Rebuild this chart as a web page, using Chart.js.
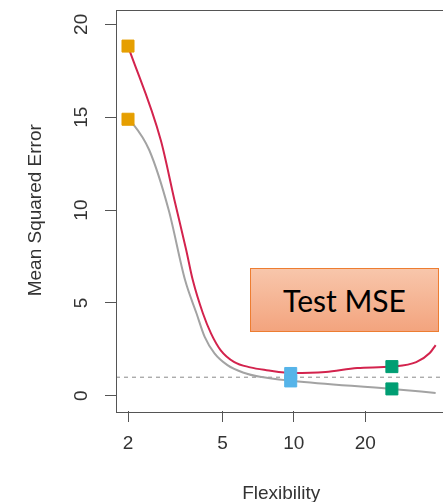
<!DOCTYPE html>
<html>
<head>
<meta charset="utf-8">
<script src="https://cdn.jsdelivr.net/npm/chart.js@4/dist/chart.umd.min.js"></script>
<style>
html, body { margin: 0; padding: 0; background: #fff; overflow: hidden; }
#wrap { position: relative; width: 456px; height: 502px; }
#mseLabel {
    position: absolute; left: 250px; top: 268px; width: 189px; height: 64px;
    box-sizing: border-box; border: 1.5px solid #ED7D31;
    background: linear-gradient(#F8C6AB, #F3A47E);
    font-family: Lato, "Open Sans", sans-serif; font-size: 30px; color: #000;
    display: flex; align-items: center; justify-content: center;
}
</style>
</head>
<body>
<div id="wrap">
    <canvas id="mseChart" width="456" height="502"></canvas>
    <div id="mseLabel">Test MSE</div>
</div>
<script>
// values (x = flexibility, log axis)
const testFlex = [2.00, 2.75, 3.14, 3.52, 3.75, 4.14, 4.48, 4.92, 5.59, 6.55, 7.67, 9.92, 13.6, 18.5, 25.9, 32.8, 37.4, 39.6];
const testMse = [18.83, 13.76, 10.53, 7.84, 6.23, 4.43, 3.35, 2.45, 1.83, 1.53, 1.38, 1.22, 1.28, 1.49, 1.57, 1.81, 2.30, 2.73];
const trainFlex = [2.00, 2.09, 2.46, 2.97, 3.48, 3.89, 4.21, 4.63, 5.25, 6.15, 7.20, 9.92, 25.9, 39.6];
const trainMse = [14.89, 14.67, 13.22, 9.99, 6.23, 4.43, 3.17, 2.28, 1.65, 1.24, 1.02, 0.80, 0.37, 0.15];
const markerFlex = [2, 9.7, 25.9];
const markerTest = [18.83, 1.2, 1.57];
const markerTrain = [14.89, 0.8, 0.37];
const markerColors = ['#E69F00', '#56B4E9', '#009E73'];
const irreducibleError = 1;
const xTicks = [2, 5, 10, 20];
const yTicks = [0, 5, 10, 15, 20];
const xRange = [1.78, 44];
const yRange = [-0.82, 20.8];

const axisColor = '#555';
const textColor = '#333';
const axisFont = {family: '"Liberation Sans", Arial, sans-serif', size: 19};

function toPoints(xs, ys) {
    return xs.map((x, i) => ({x: x, y: ys[i]}));
}

const markerPoints = [];
const markerFill = [];
markerFlex.forEach(function(x, i) {
    markerPoints.push({x: x, y: markerTest[i]});
    markerPoints.push({x: x, y: markerTrain[i]});
    markerFill.push(markerColors[i], markerColors[i]);
});

// R style box around the plot region
const boxPlugin = {
    id: 'plotBox',
    afterDraw(chart) {
        const a = chart.chartArea;
        const c = chart.ctx;
        c.save();
        c.strokeStyle = axisColor;
        c.lineWidth = 1;
        c.strokeRect(Math.round(a.left) + 0.5, Math.round(a.top) + 0.5,
            Math.round(a.right - a.left), Math.round(a.bottom - a.top));
        c.restore();
    }
};

function noPadding(s) {
    s.paddingTop = 0;
    s.paddingBottom = 0;
    s.paddingLeft = 0;
    s.paddingRight = 0;
}

new Chart(document.getElementById('mseChart'), {
    type: 'line',
    data: {
        datasets: [
            {
                label: 'markers',
                data: markerPoints,
                showLine: false,
                pointStyle: 'rect',
                pointRadius: 8.5,
                pointBackgroundColor: markerFill,
                pointBorderColor: markerFill,
                order: 0
            },
            {
                label: 'Test MSE',
                data: toPoints(testFlex, testMse),
                borderColor: '#D3234D',
                borderWidth: 2,
                pointRadius: 0,
                cubicInterpolationMode: 'monotone',
                order: 1
            },
            {
                label: 'Training MSE',
                data: toPoints(trainFlex, trainMse),
                borderColor: '#A3A3A3',
                borderWidth: 2,
                pointRadius: 0,
                cubicInterpolationMode: 'monotone',
                order: 2
            },
            {
                label: 'Irreducible error',
                data: [{x: xRange[0], y: irreducibleError}, {x: xRange[1], y: irreducibleError}],
                borderColor: '#8a8a8a',
                borderWidth: 1,
                borderDash: [4, 4],
                pointRadius: 0,
                order: 3
            }
        ]
    },
    options: {
        responsive: false,
        animation: false,
        layout: {padding: {left: 20, top: 9, right: 2, bottom: 0}},
        plugins: {legend: {display: false}, tooltip: {enabled: false}},
        scales: {
            x: {
                type: 'logarithmic',
                min: xRange[0],
                max: xRange[1],
                afterBuildTicks: function(s) { s.ticks = xTicks.map(v => ({value: v})); },
                afterFit: function(s) { s.height = 91; noPadding(s); },
                ticks: {
                    callback: v => String(v),
                    font: axisFont, color: textColor,
                    padding: 10, maxRotation: 0, autoSkip: false
                },
                grid: {drawOnChartArea: false, tickLength: 11, color: axisColor},
                border: {display: false},
                title: {
                    display: true, text: 'Flexibility', font: axisFont, color: textColor,
                    padding: {top: 0, bottom: -3}
                }
            },
            y: {
                min: yRange[0],
                max: yRange[1],
                afterBuildTicks: function(s) { s.ticks = yTicks.map(v => ({value: v})); },
                afterFit: function(s) { s.width = 96; noPadding(s); },
                ticks: {
                    font: axisFont, color: textColor,
                    minRotation: 90, maxRotation: 90, crossAlign: 'center', padding: 13
                },
                grid: {drawOnChartArea: false, tickLength: 11, color: axisColor},
                border: {display: false},
                title: {
                    display: true, text: 'Mean Squared Error', font: axisFont, color: textColor,
                    padding: {top: 4, bottom: 4}
                }
            }
        }
    },
    plugins: [boxPlugin]
});
</script>
</body>
</html>
